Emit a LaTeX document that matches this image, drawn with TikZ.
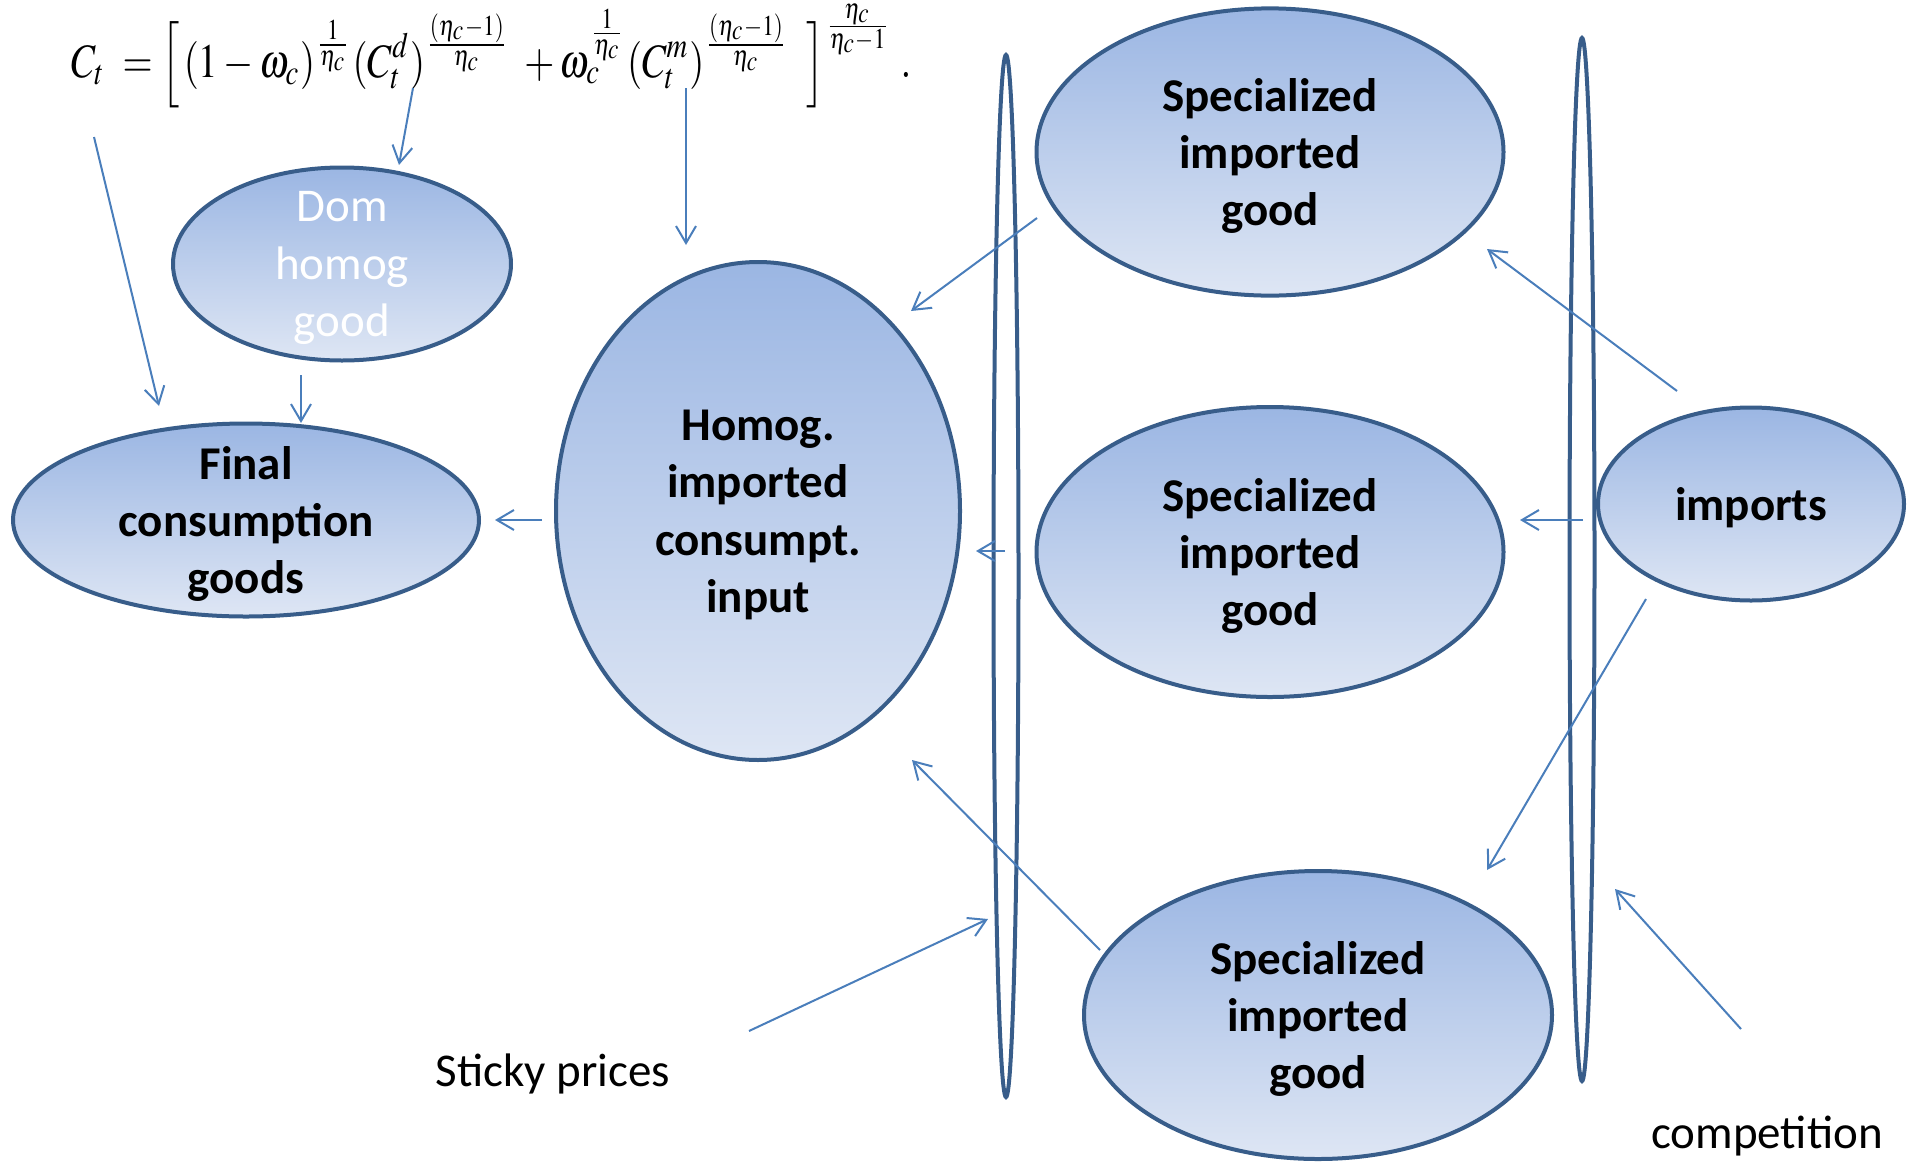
\documentclass[tikz,border=0pt]{standalone}
\usepackage{mathptmx}
\usepackage{fontspec}
\setmainfont{Carlito}
\usetikzlibrary{arrows.meta,shapes.geometric,calc}

\definecolor{rim}{RGB}{56,93,138}
\definecolor{shadetop}{RGB}{155,182,227}
\definecolor{shadebot}{RGB}{222,230,244}
\definecolor{flow}{RGB}{74,126,187}

\begin{document}
\begin{tikzpicture}[x=0.5pt,y=-0.5pt,
  bubble/.style={ellipse, draw=rim, line width=2pt, top color=shadetop,
                 bottom color=shadebot, inner sep=0pt},
  ring/.style={ellipse, draw=rim, line width=2pt, inner sep=0pt,
               minimum width=12.5pt},
  lbl/.style={font=\fontsize{23.5}{28.7}\selectfont, align=center, inner sep=0pt},
  blbl/.style={lbl, font=\fontsize{23.5}{28.7}\selectfont\bfseries, yshift=-2pt},
  wlbl/.style={lbl, text=white, yshift=-2pt},
  arr/.style={draw=flow, line width=1pt,
              -{Straight Barb[length=8.5pt,width=10pt]}}
]
\useasboundingbox (0,0) rectangle (1917,1162);

% aggregation formula
\node[anchor=base west, inner sep=0pt] (eq) at (71,77) {\scalebox{1}[1.24]{\resizebox{420pt}{!}{$\displaystyle
  C_t \;=\Bigl[\,(1-\omega_c)^{\frac{1}{\eta_c}}(C_t^{d})^{\frac{(\eta_c-1)}{\eta_c}}
  \;+\omega_c^{\frac{1}{\eta_c}}(C_t^{m})^{\frac{(\eta_c-1)}{\eta_c}}\;\;\Bigr]^{\frac{\eta_c}{\eta_c-1}}\;.$}}};

% separating rings
\node[ring, minimum height=521pt] (ringL) at (1006,576) {};
\node[ring, minimum height=521.5pt] (ringR) at (1582,559.5) {};

% goods
\node[bubble, minimum width=169pt, minimum height=96.5pt,
      label={[wlbl]center:Dom\\homog\\good}] (dom) at (342,264) {};
\node[bubble, minimum width=233pt, minimum height=96.5pt,
      label={[blbl]center:Final\\consumption\\goods}] (final) at (246,520) {};
\node[bubble, minimum width=202pt, minimum height=249pt,
      label={[blbl]center:Homog.\\imported\\consumpt.\\input}] (homog) at (758,511) {};
\node[bubble, minimum width=233.5pt, minimum height=143.6pt,
      label={[blbl]center:Specialized\\imported\\good}] (spec1) at (1270,152) {};
\node[bubble, minimum width=233.5pt, minimum height=145pt,
      label={[blbl]center:Specialized\\imported\\good}] (spec2) at (1270,552) {};
\node[bubble, minimum width=234pt, minimum height=144pt,
      label={[blbl]center:Specialized\\imported\\good}] (spec3) at (1318,1015) {};
\node[bubble, minimum width=153pt, minimum height=96.5pt,
      label={[blbl]center:imports}] (imports) at (1751,504) {};

% free captions
\node[lbl] (sticky) at (553,1074) {Sticky prices};
\node[lbl] (comp) at (1767,1136) {competition};

% flows
\draw[arr] ([shift={(23,60)}]eq.base west) -- ([shift={(-87,-114)}]final.center);
\draw[arr] ([shift={(342,11)}]eq.base west) -- ([shift={(57,-99)}]dom.center);
\draw[arr] ([shift={(615,11)}]eq.base west) -- ([shift={(-72,-266)}]homog.center);
\draw[arr] ([shift={(-41,111)}]dom.center) -- ([shift={(55,-97)}]final.center);
\draw[arr] ([shift={(-216,9)}]homog.center) -- ([shift={(249,0)}]final.center);
\draw[arr] ([shift={(-233,66)}]spec1.center) -- ([shift={(153,-200)}]homog.center);
\draw[arr] ([shift={(-1,-25)}]ringL.center) -- ([shift={(218,40)}]homog.center);
\draw[arr] ([shift={(-218,-65)}]spec3.center) -- ([shift={(154,249)}]homog.center);
\draw[arr] ([shift={(196,-43)}]sticky.center) -- ([shift={(-18,343)}]ringL.center);
\draw[arr] ([shift={(-74,-113)}]imports.center) -- ([shift={(217,97)}]spec1.center);
\draw[arr] ([shift={(-168,16)}]imports.center) -- ([shift={(250,-32)}]spec2.center);
\draw[arr] ([shift={(-105,95)}]imports.center) -- ([shift={(169,-145)}]spec3.center);
\draw[arr] ([shift={(-26,-107)}]comp.center) -- ([shift={(33,329.5)}]ringR.center);
\end{tikzpicture}
\end{document}
